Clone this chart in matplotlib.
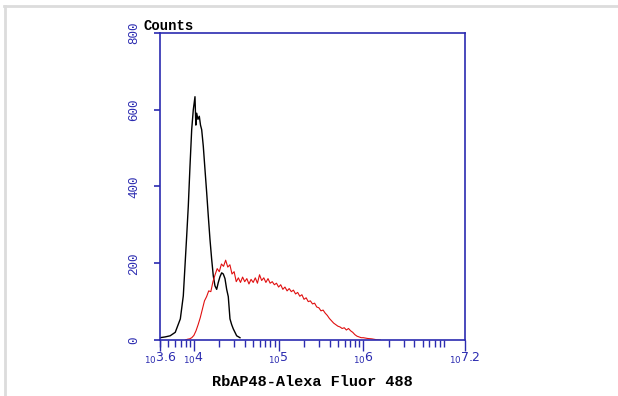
import matplotlib
matplotlib.use("Agg")
import matplotlib.pyplot as plt
from matplotlib.lines import Line2D
from matplotlib.ticker import LogLocator, FixedLocator, NullFormatter
import numpy as np

# isotype control (black) - log10 intensity and counts
ctrl_log = [3.60, 3.66, 3.72, 3.78, 3.84, 3.875, 3.895, 3.915, 3.934, 3.954, 3.974,
            3.993, 4.013, 4.023, 4.033, 4.048, 4.064, 4.078, 4.092, 4.111, 4.131,
            4.151, 4.170, 4.190, 4.210, 4.229, 4.249, 4.269, 4.288, 4.308, 4.328,
            4.347, 4.367, 4.387, 4.406, 4.426, 4.446, 4.465, 4.505, 4.544]
ctrl_cnt = [6, 8, 11, 20, 55, 115, 193, 271, 349, 453, 548,
            600, 634, 560, 591, 575, 583, 560, 548, 505, 444,
            384, 323, 262, 210, 167, 141, 132, 150, 165, 175,
            172, 160, 132, 113, 55, 40, 29, 11, 6]

# RbAP48 stained sample (red)
samp_log = [3.900, 3.925, 3.950, 3.975, 4.000, 4.025, 4.050, 4.075, 4.100, 4.125,
            4.150, 4.175, 4.200, 4.225, 4.250, 4.275, 4.300, 4.325, 4.350, 4.375,
            4.400, 4.425, 4.450, 4.475, 4.500, 4.525, 4.550, 4.575, 4.600, 4.625,
            4.650, 4.675, 4.700, 4.725, 4.750, 4.775, 4.800, 4.825, 4.850, 4.875,
            4.900, 4.925, 4.950, 4.975, 5.000, 5.025, 5.050, 5.075, 5.100, 5.125,
            5.150, 5.175, 5.200, 5.225, 5.250, 5.275, 5.300, 5.325, 5.350, 5.375,
            5.400, 5.425, 5.450, 5.475, 5.500, 5.525, 5.550, 5.575, 5.600, 5.625,
            5.650, 5.675, 5.700, 5.725, 5.750, 5.775, 5.800, 5.825, 5.850, 5.875,
            5.900, 5.925, 5.950, 5.975, 6.000, 6.050, 6.100, 6.150, 6.200]
samp_cnt = [0, 2, 3, 6, 12, 24, 40, 58, 80, 102,
            113, 128, 126, 152, 170, 186, 178, 198, 192, 208,
            190, 196, 172, 178, 152, 162, 150, 164, 152, 160,
            146, 158, 150, 162, 148, 170, 155, 162, 150, 160,
            148, 152, 144, 148, 138, 144, 132, 138, 128, 134,
            126, 130, 120, 124, 114, 118, 106, 110, 100, 102,
            94, 96, 86, 84, 76, 78, 70, 64, 56, 50,
            44, 40, 36, 34, 30, 32, 26, 30, 24, 20,
            14, 10, 8, 6, 6, 4, 3, 1, 0]

y_ticks = [0, 200, 400, 600, 800]
x_major = [3.6, 4, 5, 6, 7.2]
x_labels = ["3.6", "4", "5", "6", "7.2"]

blue = "#2b2bb0"
mono = ["Liberation Mono", "DejaVu Sans Mono"]

fig = plt.figure(figsize=(6.18, 3.96), dpi=100)
ax = fig.add_axes([0.2589, 0.1414, 0.4935, 0.7753])

ax.plot(10 ** np.array(ctrl_log), ctrl_cnt, color="black", lw=1.0)
ax.plot(10 ** np.array(samp_log), samp_cnt, color="#e01010", lw=0.8)

ax.set_xscale("log")
ax.set_xlim(10 ** 3.6, 10 ** 7.2)
ax.set_ylim(0, 800)

for s in ax.spines.values():
    s.set_color(blue)
    s.set_linewidth(1.2)

ax.xaxis.set_major_locator(FixedLocator([10 ** v for v in x_major]))
ax.set_xticklabels([r"$_{10}$" + t for t in x_labels])
ax.xaxis.set_minor_locator(LogLocator(base=10, subs=np.arange(2, 10)))
ax.xaxis.set_minor_formatter(NullFormatter())
ax.tick_params(axis="x", which="major", direction="out", length=8, width=1,
               color=blue, labelcolor=blue, labelsize=9, pad=0)
ax.tick_params(axis="x", which="minor", direction="out", length=5, width=1,
               color=blue)

ax.set_yticks(y_ticks)
ax.set_yticklabels([str(v) for v in y_ticks], rotation=90, va="center",
                   family=mono, fontsize=9)
ax.tick_params(axis="y", direction="out", length=4, width=1.2, color=blue,
               labelcolor=blue, pad=10)

ax.set_xlabel("RbAP48-Alexa Fluor 488", family=mono, fontweight="bold",
              fontsize=11, labelpad=6)
fig.text(0.233, 0.923, "Counts", family=mono, fontweight="bold", fontsize=10,
         va="baseline")

# light grey frame on top and left edge of the image
fig.add_artist(Line2D([0.007, 1.0], [0.985, 0.985], color="#dcdcdc", lw=2))
fig.add_artist(Line2D([0.008, 0.008], [0.0, 0.985], color="#dcdcdc", lw=2))

fig.savefig("out.png", dpi=100)
